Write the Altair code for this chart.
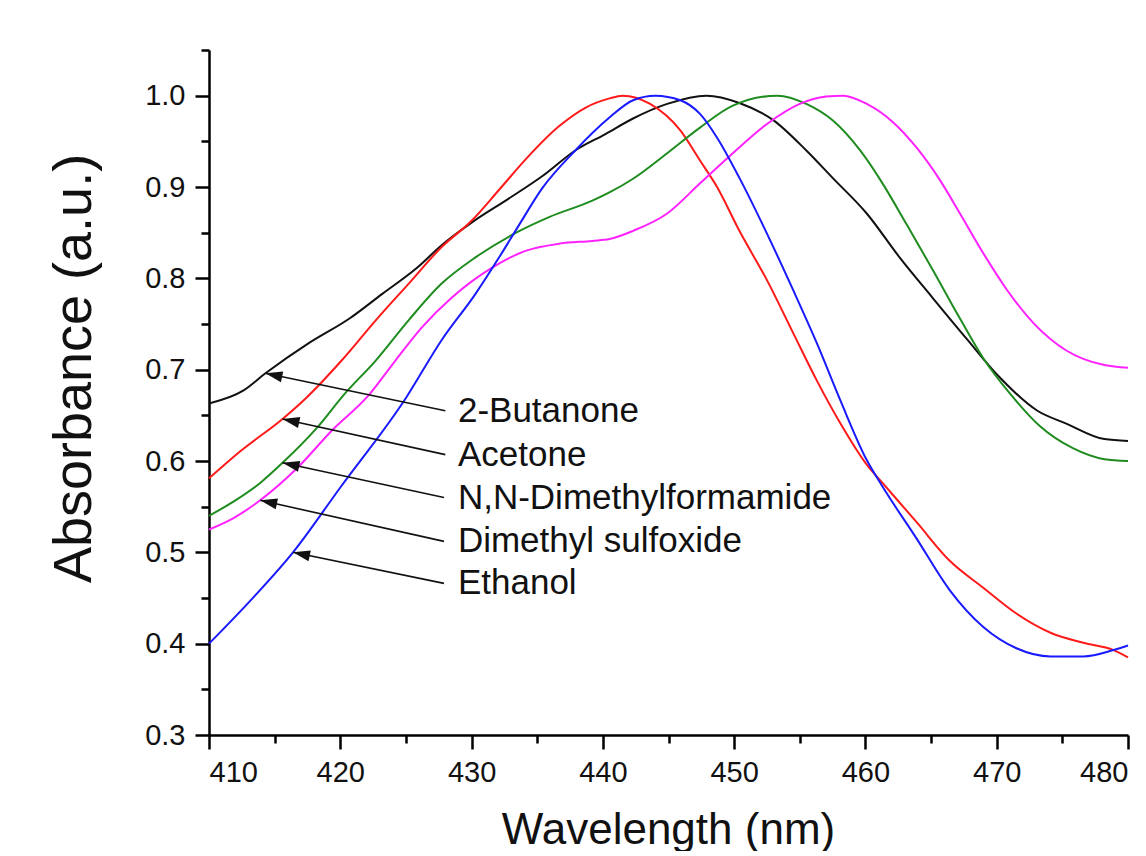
import altair as alt
import pandas as pd

# ---------------- data ----------------
solvents = ["2-Butanone", "Acetone", "N,N-Dimethylformamide", "Dimethyl sulfoxide", "Ethanol"]
colors = ["#111111", "#ff1a1a", "#1f8c1f", "#ff22ff", "#1a1aff"]

wl_butanone = [410, 412.6, 414.3, 417.6, 420.7, 423.2, 425.8, 427.7, 430.0, 432.8, 435.4, 437.9,
               440.2, 442.3, 444.9, 447.9, 450.4, 453.0, 455.5, 457.5, 460.1, 462.6, 465.1, 467.7,
               470.2, 473.1, 475.3, 478.2, 480]
ab_butanone = [0.663, 0.677, 0.696, 0.729, 0.756, 0.783, 0.811, 0.836, 0.861, 0.887, 0.912, 0.940,
               0.958, 0.975, 0.991, 1.000, 0.992, 0.973, 0.940, 0.910, 0.871, 0.823, 0.779, 0.734,
               0.692, 0.655, 0.641, 0.624, 0.622]

wl_acetone = [410, 412.5, 415.6, 417.4, 420.1, 422.7, 425.2, 427.7, 430.0, 432.1, 434.1, 436.7,
              438.7, 440.5, 441.5, 443.6, 445.9, 447.4, 448.7, 450.4, 452.5, 454.5, 456.3, 458.1,
              460.1, 461.3, 463.9, 466.4, 469.0, 471.5, 474.1, 476.6, 478.9, 480]
ab_acetone = [0.581, 0.612, 0.646, 0.669, 0.710, 0.754, 0.794, 0.834, 0.863, 0.897, 0.930, 0.967,
              0.987, 0.997, 1.000, 0.991, 0.962, 0.929, 0.900, 0.852, 0.798, 0.740, 0.688, 0.641,
              0.596, 0.576, 0.533, 0.491, 0.461, 0.433, 0.412, 0.401, 0.393, 0.385]

wl_dmf = [410, 411.8, 413.9, 415.6, 418.2, 420.3, 422.7, 425.2, 427.7, 430.3, 433.4, 435.9,
          439.2, 440.5, 442.3, 444.9, 447.4, 449.9, 453.3, 455.5, 457.5, 459.6, 461.3, 463.1,
          465.1, 467.2, 469.0, 471.0, 473.3, 475.8, 478.2, 480]
ab_dmf = [0.540, 0.555, 0.576, 0.598, 0.636, 0.673, 0.710, 0.754, 0.794, 0.823, 0.850, 0.867,
          0.885, 0.894, 0.909, 0.937, 0.965, 0.989, 1.000, 0.991, 0.973, 0.940, 0.904, 0.860,
          0.810, 0.756, 0.712, 0.674, 0.638, 0.614, 0.602, 0.600]

wl_dmso = [410, 411.8, 413.9, 416.7, 419.4, 422.1, 424.2, 426.2, 428.5, 431.6, 434.1, 436.7,
           439.2, 440.5, 442.3, 444.9, 447.4, 449.9, 452.5, 455.0, 457.0, 458.3, 460.1, 462.1,
           463.9, 465.7, 467.2, 469.0, 470.8, 472.8, 475.3, 478.2, 480]
ab_dmso = [0.525, 0.537, 0.557, 0.592, 0.634, 0.671, 0.710, 0.746, 0.779, 0.812, 0.830, 0.838,
           0.841, 0.843, 0.852, 0.871, 0.904, 0.937, 0.969, 0.991, 0.999, 1.000, 0.991, 0.971,
           0.943, 0.907, 0.871, 0.827, 0.787, 0.751, 0.721, 0.705, 0.702]

wl_ethanol = [410, 413.4, 416.4, 420.0, 425.0, 427.7, 430.3, 432.1, 433.6, 435.4, 437.9, 440.5,
              442.3, 444.0, 445.9, 447.4, 448.7, 450.4, 452.5, 454.5, 456.3, 458.1, 460.1, 461.3,
              463.9, 466.4, 469.0, 471.5, 474.1, 476.6, 478.9, 480]
ab_ethanol = [0.400, 0.451, 0.500, 0.571, 0.669, 0.732, 0.783, 0.823, 0.858, 0.899, 0.940, 0.976,
              0.995, 1.000, 0.995, 0.980, 0.954, 0.910, 0.849, 0.787, 0.729, 0.666, 0.601, 0.572,
              0.515, 0.459, 0.418, 0.395, 0.386, 0.386, 0.393, 0.398]

# annotation arrows (label position and the point on each curve)
label_y = [0.655, 0.607, 0.560, 0.512, 0.466]
arrow_start_x = [428.0, 428.0, 427.9, 427.9, 427.9]
label_text_x = [428.96] * 5
tip_x = [414.3, 415.6, 415.6, 413.9, 416.4]
tip_y = [0.696, 0.646, 0.598, 0.557, 0.500]

x_major_ticks = [410, 420, 430, 440, 450, 460, 470, 480]
x_minor_ticks = [415, 425, 435, 445, 455, 465, 475]
y_major_ticks = [0.3, 0.4, 0.5, 0.6, 0.7, 0.8, 0.9, 1.0]
y_minor_ticks = [0.35, 0.45, 0.55, 0.65, 0.75, 0.85, 0.95, 1.05]

# ---------------- build tables ----------------
frames = []
for name, wl, ab in zip(
    solvents,
    [wl_butanone, wl_acetone, wl_dmf, wl_dmso, wl_ethanol],
    [ab_butanone, ab_acetone, ab_dmf, ab_dmso, ab_ethanol],
):
    frames.append(pd.DataFrame({"wl": wl, "ab": ab, "solvent": name}))
df = pd.concat(frames, ignore_index=True)

ann = pd.DataFrame({
    "label": solvents,
    "x0": arrow_start_x,
    "y0": label_y,
    "lx": label_text_x,
    "tx": tip_x,
    "ty": tip_y,
})

FONT = "Liberation Sans"
x_scale = alt.Scale(domain=[410, 480], nice=False, zero=False)
y_scale = alt.Scale(domain=[0.3, 1.05], nice=False, zero=False)

x_major = alt.Axis(
    values=x_major_ticks, format="d", grid=False, orient="bottom",
    domainColor="black", domainWidth=2.5, tickColor="black", tickWidth=2.5, tickSize=14,
    labelFont=FONT, labelFontSize=29, labelColor="#111111", labelPadding=9,
    title="Wavelength (nm)", titleFont=FONT, titleFontSize=44, titleFontWeight="normal",
    titleColor="#111111", titleX=459, titleY=108, titleAlign="center", titleBaseline="alphabetic",
)
y_major = alt.Axis(
    values=y_major_ticks, format=".1f", grid=False, orient="left",
    domainColor="black", domainWidth=2.5, tickColor="black", tickWidth=2.5, tickSize=14,
    labelFont=FONT, labelFontSize=29, labelColor="#111111", labelPadding=10,
    title="Absorbance (a.u.)", titleFont=FONT, titleFontSize=54, titleFontWeight="normal",
    titleColor="#111111", titleX=-119, titleY=318, titleAngle=270, titleAlign="center",
    titleBaseline="alphabetic",
)
x_minor = alt.Axis(values=x_minor_ticks, orient="bottom", labels=False, domain=False, grid=False,
                   tickColor="black", tickWidth=2.5, tickSize=8, title=None)
y_minor = alt.Axis(values=y_minor_ticks, orient="left", labels=False, domain=False, grid=False,
                   tickColor="black", tickWidth=2.5, tickSize=8, title=None)

lines = alt.Chart(df).mark_line(strokeWidth=2, interpolate="monotone").encode(
    x=alt.X("wl:Q", scale=x_scale, axis=x_major),
    y=alt.Y("ab:Q", scale=y_scale, axis=y_major),
    color=alt.Color("solvent:N", scale=alt.Scale(domain=solvents, range=colors), legend=None),
)

rules = alt.Chart(ann).mark_rule(color="#111111", strokeWidth=1.6).encode(
    x=alt.X("x0:Q", scale=x_scale, axis=None),
    y=alt.Y("y0:Q", scale=y_scale, axis=None),
    x2="tx:Q",
    y2="ty:Q",
)

heads = alt.Chart(ann).mark_point(
    shape="M0,0L2,-0.65L2,0.65Z", filled=True, color="#111111", opacity=1,
    size=289, angle=12, strokeWidth=0,
).encode(
    x=alt.X("tx:Q", scale=x_scale, axis=None),
    y=alt.Y("ty:Q", scale=y_scale, axis=None),
)

texts = alt.Chart(ann).mark_text(
    align="left", baseline="middle", font=FONT, fontSize=35, color="#111111",
).encode(
    x=alt.X("lx:Q", scale=x_scale, axis=None),
    y=alt.Y("y0:Q", scale=y_scale, axis=None),
    text="label:N",
)

minor = alt.Chart(df).mark_line(strokeOpacity=0).encode(
    x=alt.X("wl:Q", scale=x_scale, axis=x_minor),
    y=alt.Y("ab:Q", scale=y_scale, axis=y_minor),
    detail="solvent:N",
)

chart = (
    alt.layer(minor, lines, rules, heads, texts)
    .resolve_axis(x="independent", y="independent")
    .properties(
        width=919,
        height=685,
        autosize=alt.AutoSizeParams(type="none"),
        padding={"left": 201, "top": 42, "right": 10, "bottom": 116},
        background="white",
    )
    .configure_view(stroke=None)
)

chart.save("out.html", embed_options={"renderer": "svg", "actions": False})
